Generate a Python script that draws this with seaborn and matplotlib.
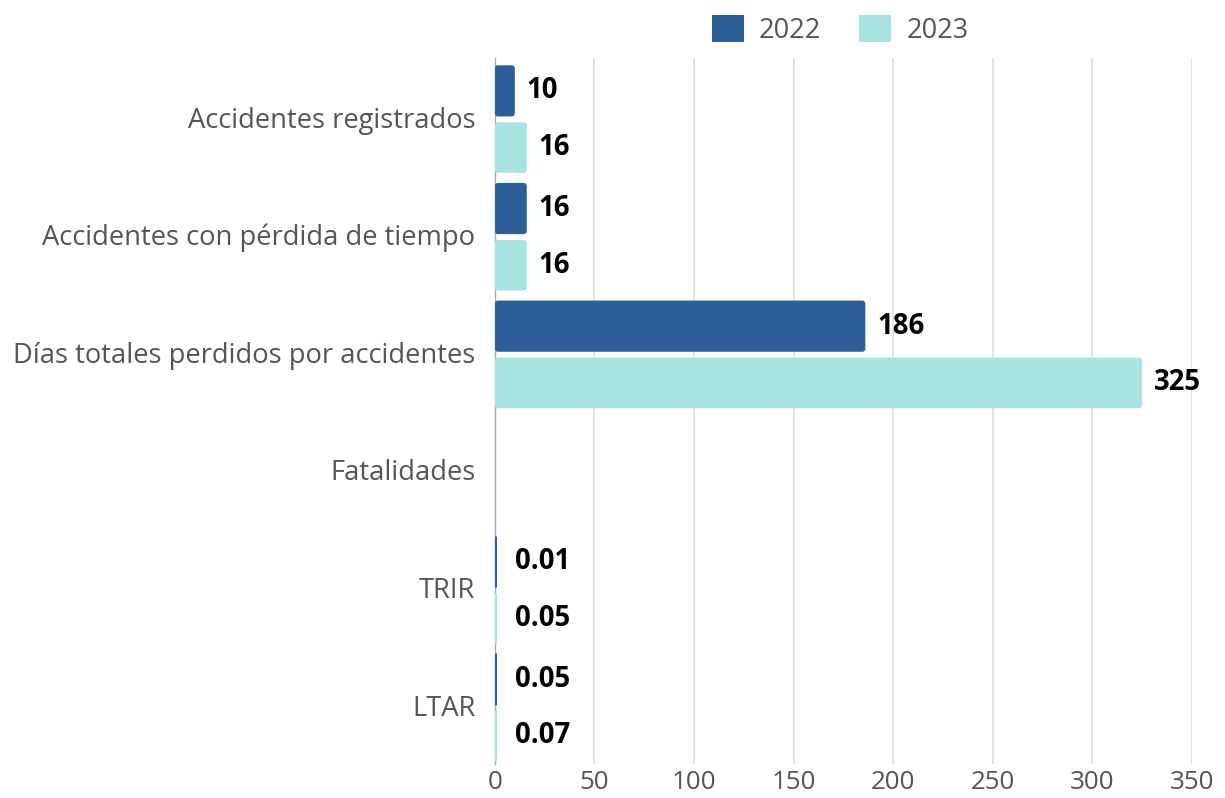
import matplotlib
matplotlib.use("Agg")
import matplotlib.pyplot as plt
from matplotlib.patches import FancyBboxPatch
import seaborn as sns
import pandas as pd

categories = [
    "Accidentes registrados",
    "Accidentes con pérdida de tiempo",
    "Días totales perdidos por accidentes",
    "Fatalidades",
    "TRIR",
    "LTAR",
]
years = ["2022", "2023"]
values_2022 = [10, 16, 186, 0, 0.01, 0.05]
values_2023 = [16, 16, 325, 0, 0.05, 0.07]
label_2022 = ["10", "16", "186", "", "0.01", "0.05"]
label_2023 = ["16", "16", "325", "", "0.05", "0.07"]
x_ticks = [0, 50, 100, 150, 200, 250, 300, 350]

colors = {"2022": "#2E5E98", "2023": "#A9E3E1"}

df = pd.DataFrame({
    "categoria": categories * 2,
    "anio": [years[0]] * len(categories) + [years[1]] * len(categories),
    "valor": values_2022 + values_2023,
})

sns.set_theme(style="white")
plt.rcParams["font.family"] = ["Open Sans", "DejaVu Sans"]

fig = plt.figure(figsize=(12.25, 7.98), dpi=100)
ax = fig.add_axes([0.404, 0.0426, 0.569, 0.8844])

sns.barplot(
    data=df, y="categoria", x="valor", hue="anio", order=categories,
    hue_order=years, palette=colors, orient="h", width=0.9,
    saturation=1, ax=ax, legend=False,
)

ax.set_xlim(0, 350)
ax.set_ylim(len(categories) - 0.5, -0.5)

# bar placement within each category band: upper bar ends at the centre,
# lower bar starts just below it
band_offsets = {"2022": (-0.44, 0.435), "2023": (0.045, 0.43)}
# rounding aspect: convert x-unit radius to matching y-unit radius
px_per_x = 0.569 * 1225 / 350
px_per_y = 0.8844 * 798 / len(categories)
radius_px = 3.0
aspect = (radius_px / px_per_y) / (radius_px / px_per_x)

labels = [label_2022, label_2023]
for container, year, labs in zip(ax.containers, years, labels):
    for i, (patch, lab) in enumerate(zip(container, labs)):
        value = patch.get_width()
        y0 = i + band_offsets[year][0]
        h = band_offsets[year][1]
        patch.set_visible(False)
        if value <= 0:
            continue
        if value * px_per_x > 2 * radius_px:
            bar = FancyBboxPatch(
                (0, y0), value, h,
                boxstyle=f"round,pad=0,rounding_size={radius_px / px_per_x}",
                mutation_aspect=aspect, facecolor=colors[year],
                edgecolor="none", zorder=3,
            )
        else:
            bar = plt.Rectangle((0, y0), value, h, facecolor=colors[year],
                                edgecolor=colors[year], linewidth=2.2, zorder=3)
        ax.add_patch(bar)
        pad = 12 if value >= 1 else 20
        ax.annotate(lab, xy=(value, y0 + h / 2), xytext=(pad, 0),
                    textcoords="offset pixels", va="center", ha="left",
                    fontsize=19.8, fontweight="bold", color="black", zorder=4)

ax.set_xticks(x_ticks)
ax.set_xticklabels([str(t) for t in x_ticks])
ax.grid(axis="x", color="#DDDDDD", linewidth=1.2)
ax.set_axisbelow(True)
for side in ["top", "right", "bottom"]:
    ax.spines[side].set_visible(False)
ax.spines["left"].set_color("#AAAAAA")
ax.spines["left"].set_linewidth(1.0)
ax.spines["left"].set_zorder(2)
ax.set_xlabel("")
ax.set_ylabel("")
ax.tick_params(axis="y", length=0, pad=14, labelsize=19.7, labelcolor="#555555")
ax.tick_params(axis="x", length=0, pad=4, labelsize=18.7, labelcolor="#555555")

handles = [plt.Rectangle((0, 0), 1, 1, facecolor=colors[y], edgecolor="none") for y in years]
fig.legend(handles, years, loc="upper center", bbox_to_anchor=(0.686, 1.012),
           ncol=2, frameon=False, fontsize=19.5, handlelength=1.18,
           handleheight=1.18, handletextpad=0.55, columnspacing=1.4,
           labelcolor="#555555")

fig.savefig("out.png", dpi=100)
